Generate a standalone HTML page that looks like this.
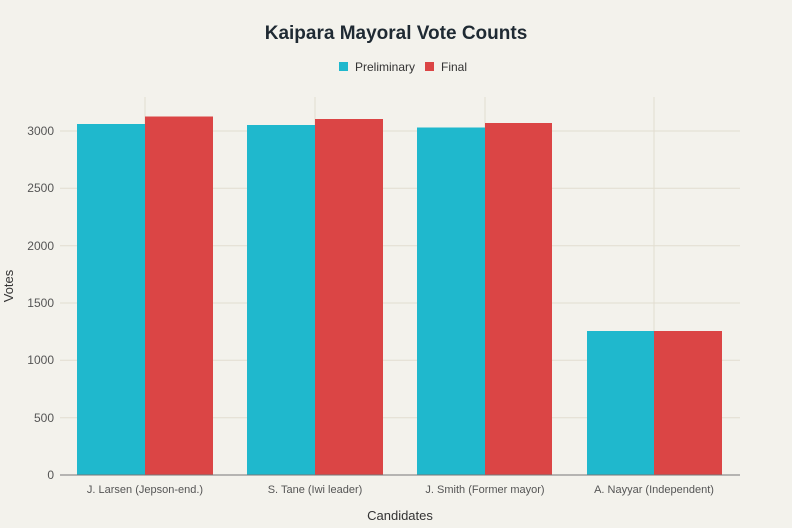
<!DOCTYPE html>
<html><head><style>body{margin:0;background:#f3f2ec}svg{display:block;font-family:"Liberation Sans",sans-serif}</style></head><body>
<svg width="792" height="528" viewBox="0 0 792 528">
<rect width="792" height="528" fill="#f3f2ec"/>
<text x="396" y="39" text-anchor="middle" font-size="19" font-weight="bold" fill="#1f2a33">Kaipara Mayoral Vote Counts</text>
<rect x="339" y="62" width="9" height="9" fill="#1fb8cd"/><text x="355" y="71" font-size="12" fill="#333">Preliminary</text>
<rect x="425" y="62" width="9" height="9" fill="#db4545"/><text x="441" y="71" font-size="12" fill="#333">Final</text>
<g stroke="#e2ddd0" stroke-width="1">
<line x1="60" x2="740" y1="417.7" y2="417.7"/><line x1="60" x2="740" y1="360.3" y2="360.3"/><line x1="60" x2="740" y1="303" y2="303"/><line x1="60" x2="740" y1="245.7" y2="245.7"/><line x1="60" x2="740" y1="188.3" y2="188.3"/><line x1="60" x2="740" y1="131" y2="131"/>
<line x1="145" x2="145" y1="97" y2="475"/><line x1="315" x2="315" y1="97" y2="475"/><line x1="485" x2="485" y1="97" y2="475"/><line x1="654" x2="654" y1="97" y2="475"/>
</g>
<g font-size="12" fill="#555" text-anchor="end">
<text x="54" y="479">0</text><text x="54" y="422">500</text><text x="54" y="364">1000</text><text x="54" y="307">1500</text><text x="54" y="250">2000</text><text x="54" y="192">2500</text><text x="54" y="135">3000</text>
</g>
<g fill="#1fb8cd">
<rect x="77" y="124" width="68" height="351"/><rect x="247" y="125" width="68" height="350"/><rect x="417" y="127.5" width="68" height="347.5"/><rect x="587" y="331" width="67" height="144"/>
</g>
<g fill="#db4545">
<rect x="145" y="116.5" width="68" height="358.5"/><rect x="315" y="119" width="68" height="356"/><rect x="485" y="123" width="67" height="352"/><rect x="654" y="331" width="68" height="144"/>
</g>
<line x1="60" x2="740" y1="475" y2="475" stroke="#777" stroke-width="1"/>
<g font-size="11" fill="#555" text-anchor="middle">
<text x="145" y="493">J. Larsen (Jepson-end.)</text><text x="315" y="493">S. Tane (Iwi leader)</text><text x="485" y="493">J. Smith (Former mayor)</text><text x="654" y="493">A. Nayyar (Independent)</text>
</g>
<text x="400" y="520" text-anchor="middle" font-size="13" fill="#333">Candidates</text>
<text transform="translate(13,286) rotate(-90)" text-anchor="middle" font-size="13" fill="#333">Votes</text>
</svg>
</body></html>
